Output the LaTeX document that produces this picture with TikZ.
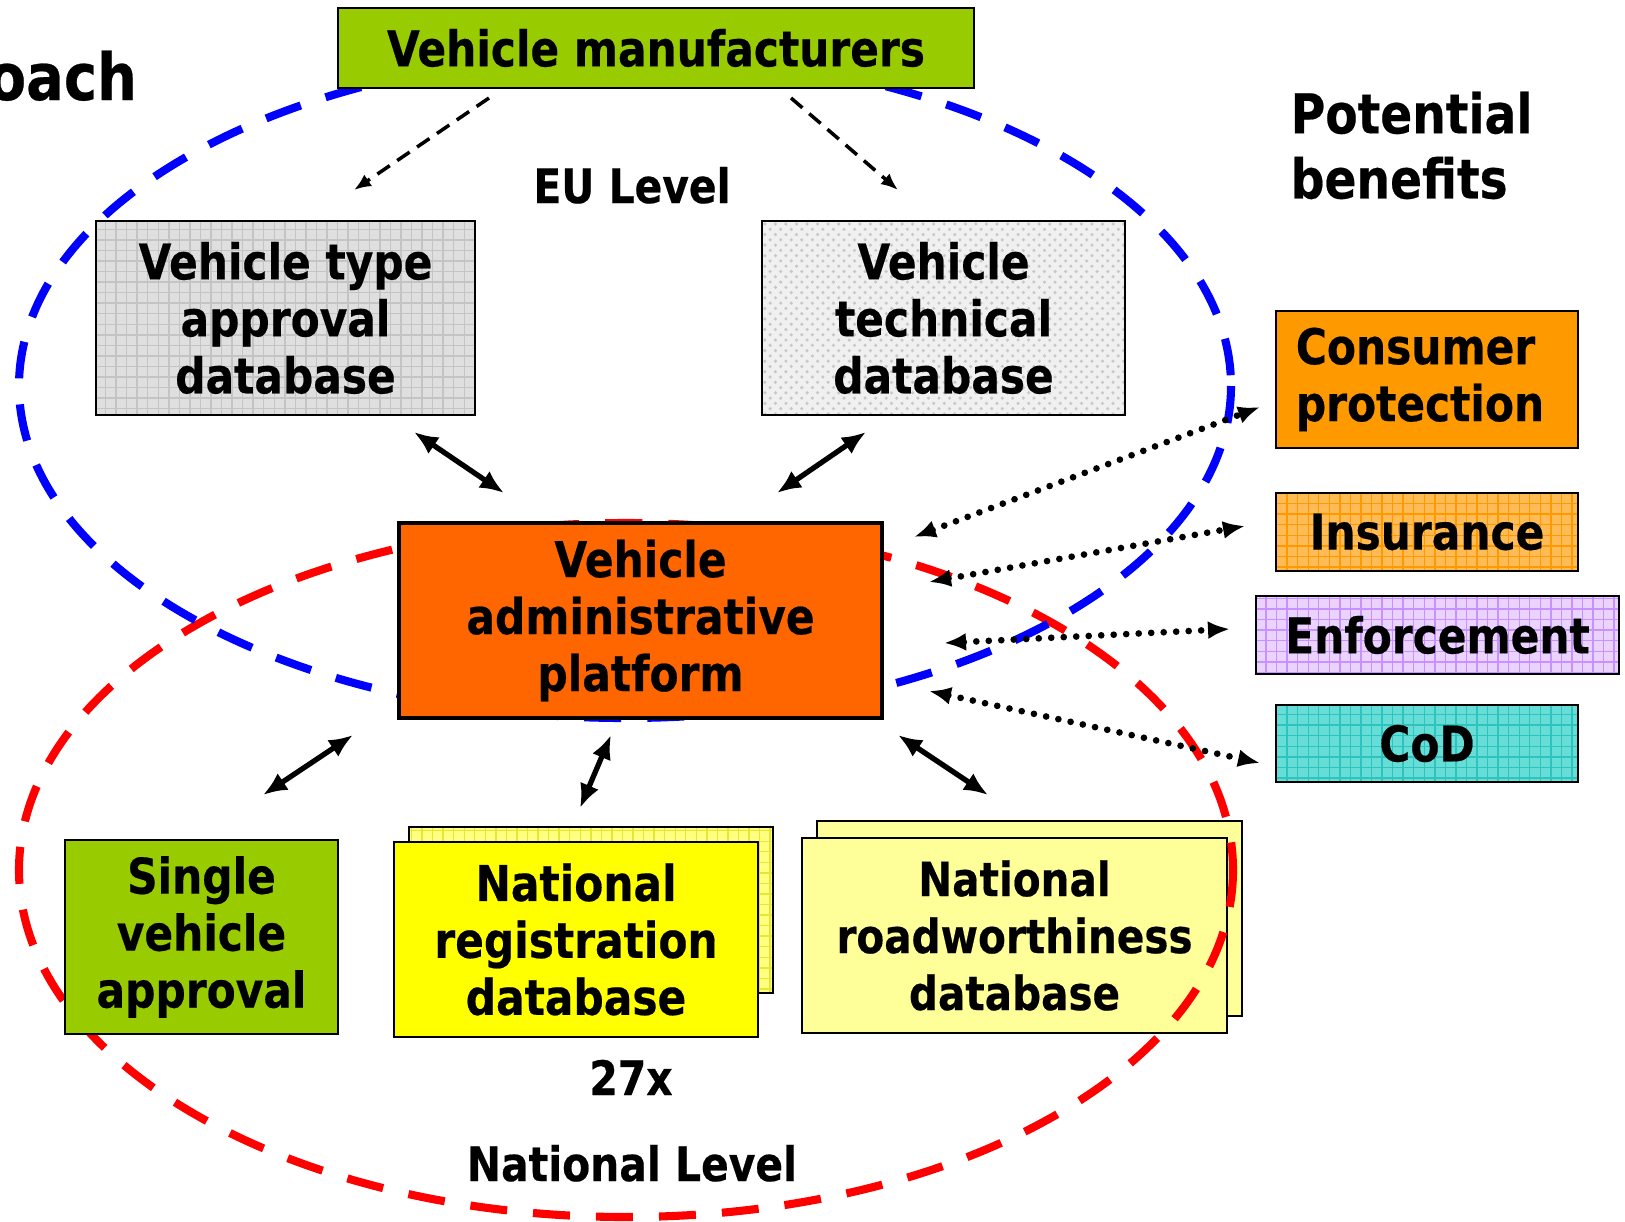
\documentclass[tikz,border=0pt]{standalone}
\usepackage{fontspec}
\setmainfont{DejaVu Sans}[FakeStretch=0.86, BoldFeatures={FakeBold=0.4}]
\usetikzlibrary{arrows.meta, patterns, calc}

\definecolor{mfgreen}{HTML}{99CC00}
\definecolor{typegray}{HTML}{DFDFDF}
\definecolor{typeline}{HTML}{C4C4C4}
\definecolor{techgray}{HTML}{F0F0F0}
\definecolor{techline}{HTML}{C8C8C8}
\definecolor{platorange}{HTML}{FF6600}
\definecolor{consorange}{HTML}{FF9900}
\definecolor{insorange}{HTML}{FFBB55}
\definecolor{insline}{HTML}{FF9900}
\definecolor{enflilac}{HTML}{EAD3FF}
\definecolor{enfline}{HTML}{C792FF}
\definecolor{codteal}{HTML}{66DDD6}
\definecolor{codline}{HTML}{2EC4BE}
\definecolor{regyellow}{HTML}{FFFF00}
\definecolor{regback}{HTML}{FFFF80}
\definecolor{regline}{HTML}{E6E633}
\definecolor{rwyellow}{HTML}{FFFF99}

\tikzset{
  box/.style={draw, line width=0.6pt, align=center, inner sep=0pt,
    font=\bfseries\fontsize{14}{16.2}\selectfont},
  gridfill/.style 2 args={preaction={fill=#1}, pattern=grid, pattern color=#2},
  level/.style={font=\bfseries\fontsize{13.5}{16}\selectfont, inner sep=0pt, anchor=base},
  ring/.style={line width=2.3pt, dash pattern=on 0.37cm off 0.26cm},
  biarrow/.style={{Latex[length=0.24cm,width=0.2cm]}-{Latex[length=0.24cm,width=0.2cm]}, line width=1.5pt},
  dotarrow/.style={{Latex[length=0.22cm,width=0.18cm]}-{Latex[length=0.22cm,width=0.18cm]},
    line width=1.9pt, line cap=round, dash pattern=on 0pt off 0.125cm},
  feedarrow/.style={-{Latex[length=0.17cm,width=0.14cm]}, line width=1pt, dash pattern=on 0.15cm off 0.09cm},
}

\begin{document}
\begin{tikzpicture}[x=0.01cm, y=-0.01cm]
  \useasboundingbox (0,0) rectangle (1625,1221);

  % national roadworthiness stack sits under the red ring
  \node[box, fill=rwyellow, minimum width=4.25cm, minimum height=1.95cm] (natrwb) at (1029.5,918.5) {};
  \node[box, fill=rwyellow, minimum width=4.25cm, minimum height=1.95cm,
        font=\bfseries\fontsize{13.4}{16.2}\selectfont] (natrw) at (1014.5,935.5)
        {National\\roadworthiness\\database};

  % EU and national rings
  \draw[red, ring] (626,870) ellipse [x radius=607, y radius=347];
  \draw[blue, ring] (625,386) ellipse [x radius=606, y radius=332];

  % boxes
  \node[box, fill=mfgreen, minimum width=6.36cm, minimum height=0.80cm] (vm) at (656,48) {Vehicle manufacturers};
  \node[box, gridfill={typegray}{typeline}, minimum width=3.79cm, minimum height=1.94cm] (typeapp) at (285.5,318)
        {Vehicle type\\approval\\database};
  \node[box, preaction={fill=techgray}, pattern=crosshatch dots, pattern color=techline,
        minimum width=3.63cm, minimum height=1.94cm] (techdb) at (943.5,318)
        {Vehicle\\technical\\database};
  \node[box, fill=platorange, line width=1pt, minimum width=4.83cm, minimum height=1.95cm] (vap) at (640.5,620.5)
        {Vehicle\\administrative\\platform};
  \node[box, fill=mfgreen, minimum width=2.73cm, minimum height=1.94cm] (single) at (201.5,937)
        {Single\\vehicle\\approval};
  \node[box, gridfill={regback}{regline}, minimum width=3.64cm, minimum height=1.66cm] (natregb) at (591,910) {};
  \node[box, fill=regyellow, minimum width=3.64cm, minimum height=1.95cm] (natreg) at (576,939.5)
        {National\\registration\\database};

  % potential benefits
  \node[box, fill=consorange, align=left, minimum width=3.02cm, minimum height=1.37cm] (consumer) at (1427,379.5)
        {\hspace*{-0.14cm}Consumer\\\hspace*{-0.14cm}protection};
  \node[box, gridfill={insorange}{insline}, minimum width=3.02cm, minimum height=0.78cm] (insurance) at (1427,532) {Insurance};
  \node[box, gridfill={enflilac}{enfline}, minimum width=3.63cm, minimum height=0.78cm] (enforcement) at (1437.5,635) {Enforcement};
  \node[box, gridfill={codteal}{codline}, minimum width=3.02cm, minimum height=0.77cm] (cod) at (1427,743.5) {CoD};

  % free labels
  \node[inner sep=0pt, anchor=base west, font=\bfseries\fontsize{18.5}{20}\selectfont] (approach) at (-13,100) {oach};
  \node[inner sep=0pt, anchor=north west, align=left, font=\bfseries\fontsize{15.6}{18.5}\selectfont] (benefits) at (1290,91)
        {Potential\\benefits};
  \node[level] (eulevel) at (632,203) {EU Level};
  \node[level] (times) at (631,1095) {27x};
  \node[level] (natlevel) at (632,1181) {National Level};

  % arrow ends
  \coordinate (vm-l) at (489,98);    \coordinate (typeapp-in) at (354,190);
  \coordinate (vm-r) at (791,98);    \coordinate (techdb-in) at (898,190);
  \coordinate (typeapp-s) at (414,432); \coordinate (vap-nw) at (504,493);
  \coordinate (techdb-s) at (866,432);  \coordinate (vap-ne) at (777,493);
  \coordinate (vap-sw) at (353,735);    \coordinate (single-n) at (263,795);
  \coordinate (vap-s) at (611,735);     \coordinate (natreg-n) at (580,808);
  \coordinate (vap-se) at (898,735);    \coordinate (natrw-n) at (988,795);
  \coordinate (vap-e1) at (914,537);    \coordinate (consumer-w) at (1260,407);
  \coordinate (vap-e2) at (929,582);    \coordinate (insurance-w) at (1245,526);
  \coordinate (vap-e3) at (944,643);    \coordinate (enforcement-w) at (1230,629);
  \coordinate (vap-e4) at (929,691);    \coordinate (cod-w) at (1260,763);

  \draw[feedarrow] (vm-l) -- (typeapp-in);
  \draw[feedarrow] (vm-r) -- (techdb-in);

  \draw[biarrow] (typeapp-s) -- (vap-nw);
  \draw[biarrow] (techdb-s) -- (vap-ne);
  \draw[biarrow] (vap-sw) -- (single-n);
  \draw[biarrow] (vap-s) -- (natreg-n);
  \draw[biarrow] (vap-se) -- (natrw-n);

  \draw[dotarrow] (vap-e1) -- (consumer-w);
  \draw[dotarrow] (vap-e2) -- (insurance-w);
  \draw[dotarrow] (vap-e3) -- (enforcement-w);
  \draw[dotarrow] (vap-e4) -- (cod-w);
\end{tikzpicture}
\end{document}
